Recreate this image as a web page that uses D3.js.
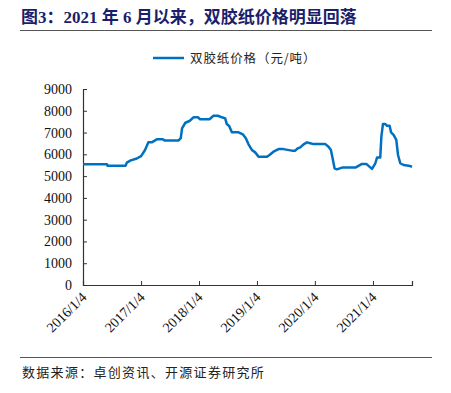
<!DOCTYPE html>
<html>
<head>
<meta charset="utf-8">
<script src="https://cdn.jsdelivr.net/npm/d3@7"></script>
<style>
	body { margin: 0; background: #fff; }
	svg { display: block; }
</style>
</head>
<body>
<div id="svg-container"></div>
<script>

// DATA
const dates = [
	"2016-01-04", "2016-06-03", "2016-06-06", "2016-09-29", "2016-10-06", "2016-10-31",
	"2016-12-08", "2017-01-04", "2017-01-29", "2017-02-19", "2017-03-12", "2017-04-13",
	"2017-05-21", "2017-06-04", "2017-08-27", "2017-09-11", "2017-09-19", "2017-10-10",
	"2017-11-05", "2017-11-30", "2017-12-28", "2018-01-11", "2018-03-11", "2018-04-05",
	"2018-05-03", "2018-05-28", "2018-06-18", "2018-06-28", "2018-07-13", "2018-07-30",
	"2018-09-10", "2018-10-07", "2018-10-26", "2018-11-12", "2018-12-03", "2018-12-24",
	"2019-01-14", "2019-03-08", "2019-03-24", "2019-04-18", "2019-05-20", "2019-06-20",
	"2019-08-12", "2019-09-02", "2019-09-17", "2019-10-04", "2019-10-25", "2019-11-15",
	"2019-12-06", "2019-12-27", "2020-03-10", "2020-03-30", "2020-04-14", "2020-04-27",
	"2020-05-07", "2020-05-22", "2020-06-23", "2020-09-15", "2020-10-27", "2020-11-23",
	"2020-12-29", "2021-01-19", "2021-01-30", "2021-02-19", "2021-02-26", "2021-03-08",
	"2021-03-23", "2021-04-03", "2021-04-19", "2021-04-28", "2021-05-14", "2021-05-31",
	"2021-06-11", "2021-06-25", "2021-07-16", "2021-08-17", "2021-09-07"
];
const prices = [
	5550, 5550, 5480, 5480, 5620, 5720,
	5810, 5920, 6200, 6550, 6550, 6690,
	6690, 6630, 6630, 6740, 7190, 7450,
	7530, 7700, 7700, 7610, 7610, 7770,
	7770, 7700, 7650, 7390, 7300, 7010,
	7010, 6920, 6740, 6460, 6200, 6090,
	5890, 5890, 5970, 6120, 6240, 6240,
	6170, 6170, 6270, 6320, 6460, 6550,
	6510, 6470, 6470, 6350, 6200, 5740,
	5360, 5310, 5390, 5390, 5560, 5560,
	5330, 5590, 5860, 5860, 6810, 7390,
	7390, 7310, 7310, 7010, 6890, 6660,
	5970, 5590, 5510, 5480, 5430
];
const xTickLabels = ["2016/1/4", "2017/1/4", "2018/1/4", "2019/1/4", "2020/1/4", "2021/1/4"];
const yTicks = [0, 1000, 2000, 3000, 4000, 5000, 6000, 7000, 8000, 9000];
const seriesName = "双胶纸价格（元/吨）";
const title = "图3：2021 年 6 月以来，双胶纸价格明显回落";
const source = "数据来源：卓创资讯、开源证券研究所";


// CHART
function drawChart() {
	const w = 451;
	const h = 393;
	const padLeft = 83;
	const padRight = 39;
	const padTop = 89;
	const bottom = 285;

	const parseDate = d3.timeParse("%Y-%m-%d");
	const parseTick = d3.timeParse("%Y/%m/%d");
	const data = dates.map((d, i) => ({ date: parseDate(d), value: prices[i] }));

	const xScale = d3.scaleTime()
		.domain([parseDate("2016-01-04"), parseDate("2021-09-07")])
		.range([padLeft, w - padRight]);
	const yScale = d3.scaleLinear()
		.domain([0, 9000])
		.range([bottom, padTop]);

	const svg = d3.select("#svg-container")
		.append("svg")
		.attr("width", w)
		.attr("height", h);

	// title
	svg.append("text")
		.text(title)
		.attr("x", 21)
		.attr("y", 23)
		.style("font-family", "'Liberation Serif', 'Noto Sans CJK SC'")
		.style("font-weight", "bold")
		.style("font-size", "17px")
		.style("fill", "#1b1f6b");
	svg.append("line")
		.attr("x1", 20).attr("x2", 432)
		.attr("y1", 30.5).attr("y2", 30.5)
		.style("stroke", "#555")
		.style("stroke-width", 1);

	// legend
	svg.append("line")
		.attr("x1", 153).attr("x2", 184)
		.attr("y1", 58).attr("y2", 58)
		.style("stroke", "#0070c0")
		.style("stroke-width", 2.5);
	svg.append("text")
		.text(seriesName)
		.attr("x", 190)
		.attr("y", 62.5)
		.style("font-family", "'Noto Sans CJK SC'")
		.style("font-size", "12.5px")
		.style("letter-spacing", "0.9px")
		.style("fill", "#222");

	// y-axis
	const yAxis = d3.axisLeft(yScale)
		.tickValues(yTicks)
		.tickSize(-4)
		.tickPadding(11)
		.tickFormat(d => d);
	const gy = svg.append("g")
		.attr("transform", `translate(${padLeft}, 0)`)
		.call(yAxis);

	// x-axis
	const xAxis = d3.axisBottom(xScale)
		.tickValues(xTickLabels.map(parseTick))
		.tickSize(-4)
		.tickFormat(d => d3.timeFormat("%Y/%-m/%-d")(d));
	const gx = svg.append("g")
		.attr("transform", `translate(0, ${bottom})`)
		.call(xAxis);
	gx.selectAll("text")
		.attr("text-anchor", "end")
		.attr("dy", null)
		.attr("y", 0)
		.attr("transform", "translate(4, 13) rotate(-45)");

	[gx, gy].forEach(g => {
		g.select(".domain").style("stroke", "#333").attr("stroke-width", 1.2);
		g.selectAll(".tick line").style("stroke", "#333");
		g.selectAll("text")
			.style("font-family", "'Liberation Serif'")
			.style("font-size", "14px")
			.style("fill", "#111");
	});

	// line
	const line = d3.line()
		.x(d => xScale(d.date))
		.y(d => yScale(d.value));
	svg.append("path")
		.datum(data)
		.attr("d", line)
		.style("fill", "none")
		.style("stroke", "#0070c0")
		.style("stroke-width", 2.5)
		.style("stroke-linejoin", "round");

	// source
	svg.append("line")
		.attr("x1", 20).attr("x2", 432)
		.attr("y1", 357.5).attr("y2", 357.5)
		.style("stroke", "#555")
		.style("stroke-width", 1);
	svg.append("text")
		.text(source)
		.attr("x", 22)
		.attr("y", 377)
		.style("font-family", "'Noto Sans CJK SC'")
		.style("font-size", "13px")
		.style("letter-spacing", "1.3px")
		.style("fill", "#222");
}

document.addEventListener('DOMContentLoaded', () => {
	drawChart();
});
</script>
</body>
</html>
